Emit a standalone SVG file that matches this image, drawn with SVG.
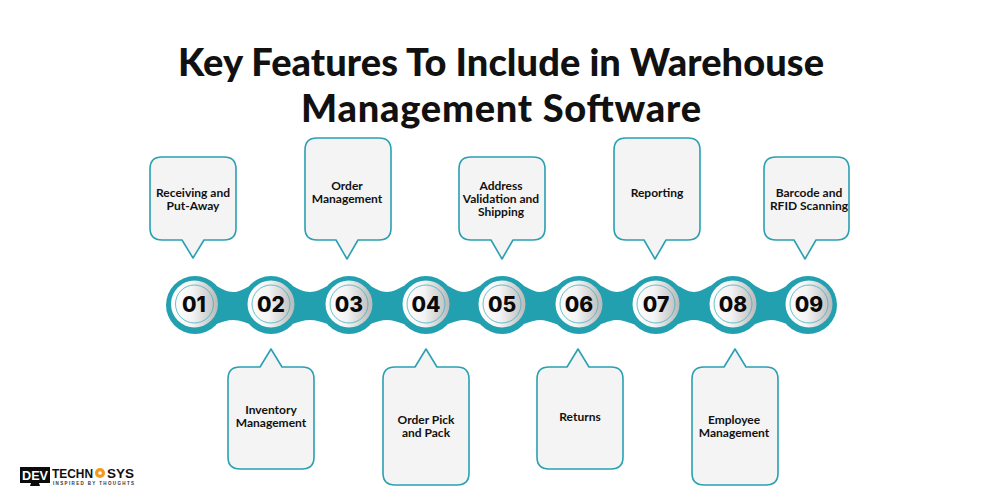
<svg xmlns="http://www.w3.org/2000/svg" width="1000" height="500" viewBox="0 0 1000 500">
<style>
text{font-family:"Lato","Liberation Sans",sans-serif;fill:#111;text-anchor:middle}
.t{font-size:38px;font-weight:900}
.l{font-size:12px;font-weight:700}
.n{font-family:"Inter","Liberation Sans",sans-serif;font-size:21px;font-weight:800;fill:#0a0a0a}
.c{fill:#f4f4f4;stroke:#2aa0b1;stroke-width:1.6;stroke-linejoin:round}
.o{fill:#22a0b0}
.i{fill:url(#g)}
.r{fill:none;stroke:#3fb0bf;stroke-width:.8}
.b{font-family:"Liberation Sans",sans-serif;font-weight:700}
</style>
<defs><linearGradient id="g" x1="0" x2="1" y1="0" y2="0"><stop offset="0" stop-color="#fff"/><stop offset=".45" stop-color="#f4f4f4"/><stop offset="1" stop-color="#b9b9b9"/></linearGradient></defs>
<rect width="1000" height="500" fill="#fff"/>
<g id="title">
<text class="t" x="501" y="76" textLength="646" lengthAdjust="spacing">Key Features To Include in Warehouse</text>
<text class="t" x="501" y="122" textLength="400" lengthAdjust="spacing">Management Software</text>
</g>
<g id="connectors">
<path class="o" d="M195 280C212 280 222 292 233 292C244 292 254 280 271 280C288 280 298 292 310 292C322 292 332 280 349 280C366 280 376 292 387 292C398 292 408 280 426 280C444 280 454 292 464 292C474 292 484 280 502 280C520 280 530 292 540 292C550 292 560 280 579 280C598 280 607 292 617 292C627 292 637 280 656 280C675 280 684 292 694 292C704 292 714 280 733 280C752 280 761 292 771 292C781 292 791 280 809 280L809 328C791 328 781 320 771 320C761 320 752 328 733 328C714 328 704 320 694 320C684 320 675 328 656 328C637 328 627 320 617 320C607 320 598 328 579 328C560 328 550 320 540 320C530 320 520 328 502 328C484 328 474 320 464 320C454 320 444 328 426 328C408 328 398 320 387 320C376 320 366 328 349 328C332 328 322 320 310 320C298 320 288 328 271 328C254 328 244 320 233 320C222 320 212 328 195 328Z"/>
</g>
<g id="node-01"><path class="c" d="M162 157H224Q236 157 236 169V228Q236 240 224 240H204L193 258L182 240H162Q150 240 150 228V169Q150 157 162 157Z"/><circle class="o" cx="195" cy="305" r="29"/><circle class="i" cx="194.500" cy="304" r="23.500"/><circle class="r" cx="194.500" cy="304" r="19"/><text class="n" x="194" y="312">01</text><text class="l" x="193" y="197">Receiving and</text><text class="l" x="193" y="210">Put-Away</text></g>
<g id="node-02"><path class="c" d="M240 367H260L271 349L282 367H302Q314 367 314 379V457Q314 469 302 469H240Q228 469 228 457V379Q228 367 240 367Z"/><circle class="o" cx="271" cy="305" r="29"/><circle class="i" cx="271" cy="304" r="23.500"/><circle class="r" cx="271" cy="304" r="19"/><text class="n" x="271" y="312">02</text><text class="l" x="271" y="414">Inventory</text><text class="l" x="271" y="427">Management</text></g>
<g id="node-03"><path class="c" d="M317 138H379Q391 138 391 150V228Q391 240 379 240H358L347 259L336 240H317Q305 240 305 228V150Q305 138 317 138Z"/><circle class="o" cx="349" cy="305" r="29"/><circle class="i" cx="349" cy="304" r="23.500"/><circle class="r" cx="349" cy="304" r="19"/><text class="n" x="349" y="312">03</text><text class="l" x="347" y="190">Order</text><text class="l" x="347" y="203">Management</text></g>
<g id="node-04"><path class="c" d="M395 367H415L426 349L437 367H457Q469 367 469 379V473Q469 485 457 485H395Q383 485 383 473V379Q383 367 395 367Z"/><circle class="o" cx="426" cy="305" r="29"/><circle class="i" cx="426" cy="304" r="23.500"/><circle class="r" cx="426" cy="304" r="19"/><text class="n" x="426" y="312">04</text><text class="l" x="426" y="424">Order Pick</text><text class="l" x="426" y="437">and Pack</text></g>
<g id="node-05"><path class="c" d="M471 157H533Q545 157 545 169V228Q545 240 533 240H513L502 259L491 240H471Q459 240 459 228V169Q459 157 471 157Z"/><circle class="o" cx="502" cy="305" r="29"/><circle class="i" cx="502" cy="304" r="23.500"/><circle class="r" cx="502" cy="304" r="19"/><text class="n" x="502" y="312">05</text><text class="l" x="501" y="190">Address</text><text class="l" x="501" y="203">Validation and</text><text class="l" x="501" y="216">Shipping</text></g>
<g id="node-06"><path class="c" d="M549 367H567L578 349L589 367H611Q623 367 623 379V457Q623 469 611 469H549Q537 469 537 457V379Q537 367 549 367Z"/><circle class="o" cx="579" cy="305" r="29"/><circle class="i" cx="579" cy="304" r="23.500"/><circle class="r" cx="579" cy="304" r="19"/><text class="n" x="579" y="312">06</text><text class="l" x="580" y="421">Returns</text></g>
<g id="node-07"><path class="c" d="M626 138H688Q700 138 700 150V228Q700 240 688 240H666L655 259L644 240H626Q614 240 614 228V150Q614 138 626 138Z"/><circle class="o" cx="656" cy="305" r="29"/><circle class="i" cx="656" cy="304" r="23.500"/><circle class="r" cx="656" cy="304" r="19"/><text class="n" x="656" y="312">07</text><text class="l" x="657" y="197">Reporting</text></g>
<g id="node-08"><path class="c" d="M704 367H724L735 349L746 367H766Q778 367 778 379V473Q778 485 766 485H704Q692 485 692 473V379Q692 367 704 367Z"/><circle class="o" cx="733" cy="305" r="29"/><circle class="i" cx="733" cy="304" r="23.500"/><circle class="r" cx="733" cy="304" r="19"/><text class="n" x="733" y="312">08</text><text class="l" x="734" y="424">Employee</text><text class="l" x="734" y="437">Management</text></g>
<g id="node-09"><path class="c" d="M776 157H837Q849 157 849 169V228Q849 240 837 240H816L805 259L794 240H776Q764 240 764 228V169Q764 157 776 157Z"/><circle class="o" cx="808" cy="305" r="29"/><circle class="i" cx="809" cy="304" r="23.500"/><circle class="r" cx="809" cy="304" r="19"/><text class="n" x="809" y="312">09</text><text class="l" x="809" y="197">Barcode and</text><text class="l" x="809" y="210">RFID Scanning</text></g>
<g id="logo">
<rect x="20" y="467" width="30" height="16" fill="#0b0b0b"/>
<path d="M31 483H39L40 486H30Z" fill="#0b0b0b"/>
<text class="b" x="35" y="480" style="font-size:13px;fill:#fff" textLength="26" lengthAdjust="spacingAndGlyphs">DEV</text>
<text class="b" x="72.500" y="478" style="font-size:12.500px" textLength="41" lengthAdjust="spacingAndGlyphs">TECHN</text>
<circle cx="100" cy="473" r="5" fill="#f39a1e"/><circle cx="100" cy="473" r="1.800" fill="#fff"/>
<text class="b" x="120.500" y="478" style="font-size:12.500px" textLength="27" lengthAdjust="spacingAndGlyphs">SYS</text>
<text class="b" x="93.500" y="485" style="font-size:4.500px;fill:#333" textLength="81" lengthAdjust="spacing">INSPIRED BY THOUGHTS</text>
</g>
</svg>
